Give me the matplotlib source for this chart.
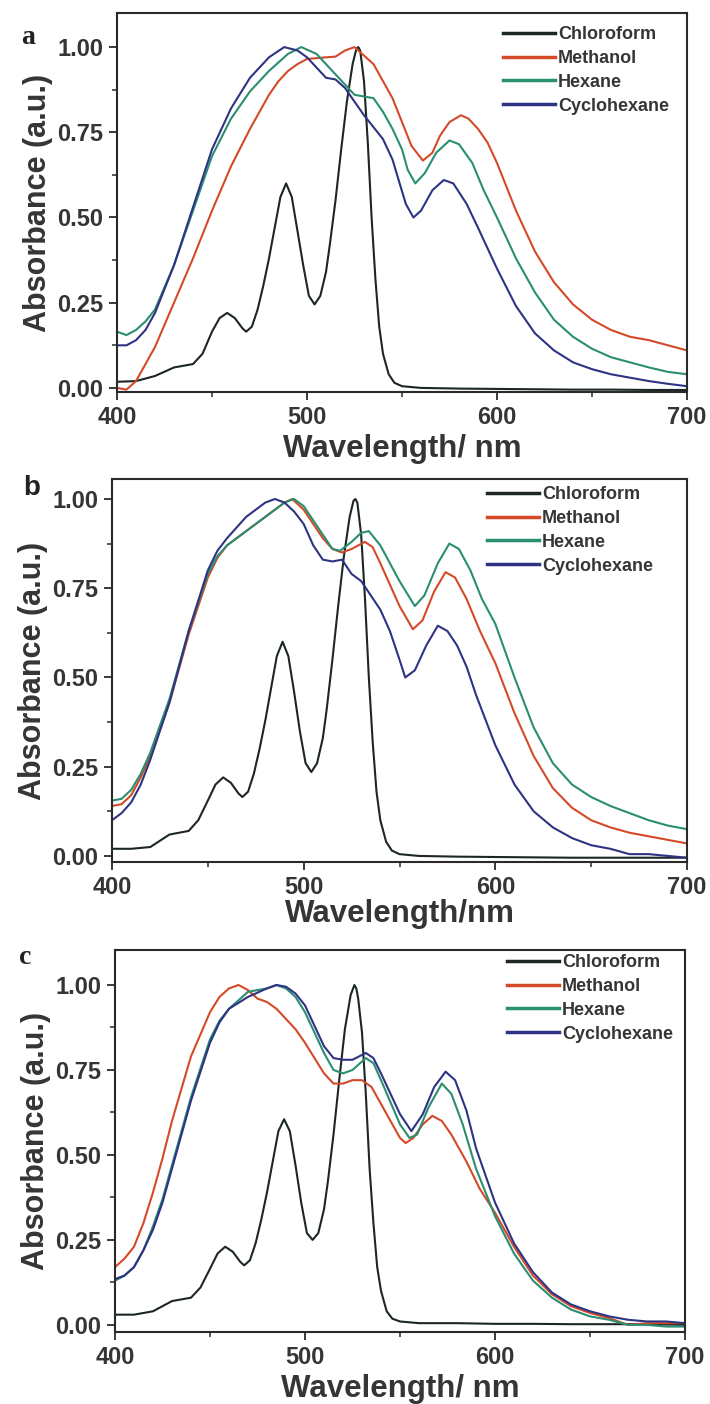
import matplotlib
matplotlib.use("Agg")
import matplotlib.pyplot as plt
from matplotlib.ticker import FixedLocator

plt.rcParams['font.family'] = ['Liberation Sans', 'DejaVu Sans']
plt.rcParams['font.weight'] = 'bold'

labels = ["Chloroform", "Methanol", "Hexane", "Cyclohexane"]
colors = ["#1c2626", "#d44a28", "#2a8e70", "#2e3384"]

chl_wl = [400, 410, 420, 430, 440, 445, 450, 454, 458, 462, 466, 468, 471, 474, 477,
          480, 483, 486, 489, 492, 495, 498, 501, 504, 507, 510, 512, 515, 518, 521,
          524, 526, 527, 528, 530, 532, 534, 536, 538, 540, 543, 546, 550, 560, 580,
          600, 620, 640, 660, 680, 700]

# ---------------- Panel a ----------------
a_chl = [0.018, 0.02, 0.035, 0.06, 0.07, 0.10, 0.165, 0.205, 0.22, 0.205, 0.175, 0.165, 0.18, 0.23, 0.30,
         0.38, 0.47, 0.56, 0.60, 0.56, 0.46, 0.36, 0.27, 0.245, 0.27, 0.34, 0.42, 0.55, 0.70, 0.84,
         0.95, 0.995, 1.0, 0.99, 0.90, 0.72, 0.50, 0.32, 0.18, 0.10, 0.04, 0.015, 0.005, 0.0, -0.002,
         -0.003, -0.004, -0.005, -0.005, -0.006, -0.006]

a_meth_wl = [400, 405, 410, 415, 420, 430, 440, 450, 460, 470, 480, 485, 490, 495, 500, 510, 515,
             520, 525, 530, 535, 540, 545, 550, 555, 561, 566, 570, 575, 581, 585, 590, 595, 600,
             605, 610, 620, 630, 640, 650, 660, 670, 680, 690, 700]
a_meth = [0.0, -0.005, 0.02, 0.07, 0.12, 0.25, 0.38, 0.52, 0.65, 0.76, 0.86, 0.90, 0.93, 0.95,
          0.965, 0.97, 0.972, 0.99, 1.0, 0.975, 0.95, 0.90, 0.85, 0.78, 0.71, 0.667, 0.69, 0.74,
          0.78, 0.80, 0.79, 0.76, 0.72, 0.66, 0.59, 0.52, 0.40, 0.31, 0.245, 0.20, 0.17, 0.15,
          0.14, 0.125, 0.11]

a_hex_wl = [400, 405, 410, 415, 420, 430, 440, 450, 460, 470, 480, 490, 497, 505, 510, 515, 520,
            525, 530, 535, 540, 545, 550, 553, 557, 562, 568, 575, 580, 587, 593, 600, 610, 620,
            630, 640, 650, 660, 670, 680, 690, 700]
a_hex = [0.165, 0.155, 0.17, 0.195, 0.23, 0.36, 0.52, 0.68, 0.79, 0.87, 0.93, 0.98, 1.0, 0.98,
         0.95, 0.92, 0.89, 0.86, 0.855, 0.85, 0.81, 0.76, 0.70, 0.64, 0.60, 0.63, 0.69, 0.726,
         0.715, 0.66, 0.58, 0.50, 0.38, 0.28, 0.20, 0.15, 0.115, 0.09, 0.075, 0.06, 0.047, 0.04]

a_cyc_wl = [400, 405, 410, 415, 420, 430, 440, 450, 460, 470, 480, 488, 495, 500, 505, 510, 515,
            520, 530, 540, 545, 552, 556, 560, 566, 572, 577, 584, 590, 595, 600, 610, 620, 630,
            640, 650, 660, 670, 680, 690, 700]
a_cyc = [0.125, 0.125, 0.14, 0.17, 0.22, 0.36, 0.53, 0.70, 0.82, 0.91, 0.97, 1.0, 0.99, 0.97,
         0.94, 0.91, 0.905, 0.88, 0.80, 0.73, 0.67, 0.54, 0.50, 0.52, 0.58, 0.61, 0.60, 0.54,
         0.47, 0.41, 0.35, 0.24, 0.16, 0.11, 0.075, 0.055, 0.04, 0.03, 0.02, 0.012, 0.005]

# ---------------- Panel b ----------------
b_chl = [0.02, 0.02, 0.025, 0.06, 0.07, 0.10, 0.155, 0.20, 0.22, 0.205, 0.175, 0.165, 0.18, 0.23, 0.30,
         0.38, 0.47, 0.56, 0.60, 0.56, 0.46, 0.35, 0.26, 0.235, 0.26, 0.33, 0.41, 0.55, 0.70, 0.84,
         0.95, 0.995, 1.0, 0.99, 0.90, 0.72, 0.50, 0.32, 0.18, 0.10, 0.04, 0.015, 0.005, 0.0, -0.002,
         -0.003, -0.004, -0.005, -0.005, -0.005, -0.005]

b_meth_wl = [400, 405, 410, 415, 420, 430, 440, 450, 455, 460, 470, 480, 490, 494, 500, 505, 510,
             515, 520, 525, 532, 536, 540, 545, 550, 557, 562, 568, 574, 579, 585, 592, 600, 610,
             620, 630, 640, 650, 660, 670, 680, 690, 700]
b_meth = [0.14, 0.145, 0.17, 0.22, 0.28, 0.43, 0.62, 0.78, 0.835, 0.87, 0.91, 0.95, 0.99, 1.0,
          0.97, 0.93, 0.89, 0.86, 0.85, 0.86, 0.88, 0.865, 0.82, 0.76, 0.70, 0.635, 0.66, 0.74,
          0.795, 0.78, 0.72, 0.63, 0.54, 0.40, 0.28, 0.19, 0.135, 0.10, 0.08, 0.065, 0.055,
          0.045, 0.035]

b_hex_wl = [400, 405, 410, 415, 420, 430, 440, 450, 455, 460, 470, 480, 490, 495, 500, 505, 510,
            515, 519, 525, 530, 534, 540, 545, 550, 558, 563, 570, 576, 581, 587, 593, 600, 610,
            620, 630, 640, 650, 660, 670, 680, 690, 700]
b_hex = [0.155, 0.16, 0.185, 0.23, 0.29, 0.44, 0.63, 0.79, 0.84, 0.87, 0.91, 0.95, 0.99, 1.0,
         0.98, 0.94, 0.90, 0.86, 0.855, 0.88, 0.905, 0.91, 0.87, 0.82, 0.77, 0.70, 0.73, 0.82,
         0.875, 0.86, 0.80, 0.72, 0.65, 0.50, 0.36, 0.26, 0.20, 0.165, 0.14, 0.12, 0.10, 0.085,
         0.075]

b_cyc_wl = [400, 405, 410, 415, 420, 430, 440, 450, 455, 460, 470, 480, 485, 490, 495, 500, 505,
            510, 515, 520, 525, 530, 540, 545, 550, 553, 558, 564, 570, 575, 580, 585, 590, 600,
            610, 620, 630, 640, 650, 660, 670, 680, 690, 700]
b_cyc = [0.10, 0.12, 0.15, 0.20, 0.27, 0.43, 0.63, 0.80, 0.855, 0.89, 0.95, 0.99, 1.0, 0.99,
         0.965, 0.93, 0.87, 0.83, 0.825, 0.83, 0.79, 0.77, 0.69, 0.63, 0.55, 0.50, 0.52, 0.59,
         0.645, 0.63, 0.59, 0.53, 0.45, 0.31, 0.20, 0.125, 0.08, 0.05, 0.03, 0.02, 0.005, 0.005,
         0.0, -0.005]

# ---------------- Panel c ----------------
c_chl = [0.03, 0.03, 0.04, 0.07, 0.08, 0.11, 0.165, 0.21, 0.23, 0.215, 0.185, 0.175, 0.19, 0.24, 0.31,
         0.39, 0.48, 0.57, 0.605, 0.57, 0.47, 0.36, 0.27, 0.25, 0.27, 0.34, 0.42, 0.56, 0.72, 0.87,
         0.97, 1.0, 0.99, 0.96, 0.86, 0.68, 0.46, 0.30, 0.17, 0.10, 0.04, 0.018, 0.01, 0.005, 0.005,
         0.003, 0.003, 0.002, 0.002, 0.002, 0.0]

c_meth_wl = [400, 405, 410, 415, 420, 425, 430, 440, 450, 455, 460, 465, 470, 475, 480, 485, 490,
             495, 500, 505, 510, 515, 520, 525, 530, 535, 540, 545, 550, 553, 557, 562, 567, 572,
             577, 585, 592, 600, 610, 620, 630, 640, 650, 660, 670, 680, 690, 700]
c_meth = [0.17, 0.195, 0.23, 0.30, 0.39, 0.49, 0.60, 0.79, 0.92, 0.965, 0.99, 1.0, 0.985, 0.96,
          0.95, 0.93, 0.90, 0.87, 0.83, 0.785, 0.74, 0.71, 0.71, 0.72, 0.72, 0.70, 0.65, 0.60,
          0.55, 0.535, 0.55, 0.59, 0.615, 0.60, 0.56, 0.48, 0.40, 0.33, 0.23, 0.145, 0.09, 0.055,
          0.035, 0.02, 0.0, 0.005, 0.005, 0.005]

c_hex_wl = [400, 405, 410, 415, 420, 425, 430, 440, 450, 455, 460, 470, 475, 480, 485, 490, 495,
            500, 505, 510, 515, 520, 525, 532, 536, 540, 545, 550, 555, 559, 565, 572, 577, 583,
            590, 600, 610, 620, 630, 640, 650, 660, 670, 680, 690, 700]
c_hex = [0.13, 0.145, 0.17, 0.22, 0.29, 0.37, 0.47, 0.67, 0.84, 0.895, 0.93, 0.98, 0.985, 0.99,
         1.0, 0.99, 0.965, 0.92, 0.86, 0.80, 0.75, 0.74, 0.75, 0.785, 0.77, 0.72, 0.655, 0.59,
         0.55, 0.56, 0.64, 0.71, 0.68, 0.59, 0.46, 0.32, 0.21, 0.13, 0.08, 0.045, 0.025, 0.015,
         0.0, 0.0, -0.005, -0.005]

c_cyc_wl = [400, 405, 410, 415, 420, 425, 430, 440, 450, 455, 460, 470, 480, 485, 490, 495, 500,
            505, 510, 515, 520, 525, 532, 536, 540, 545, 550, 556, 562, 568, 574, 579, 585, 590,
            600, 610, 620, 630, 640, 650, 660, 670, 680, 690, 700]
c_cyc = [0.135, 0.145, 0.17, 0.22, 0.28, 0.36, 0.46, 0.66, 0.83, 0.89, 0.93, 0.965, 0.99, 1.0,
         0.995, 0.975, 0.94, 0.88, 0.82, 0.785, 0.78, 0.78, 0.80, 0.785, 0.74, 0.68, 0.62, 0.57,
         0.62, 0.70, 0.745, 0.72, 0.63, 0.52, 0.36, 0.24, 0.155, 0.095, 0.06, 0.04, 0.025, 0.015,
         0.01, 0.01, 0.005]

panels = [
    dict(tag="a", tagfont="Liberation Serif",
         series=[(chl_wl, a_chl), (a_meth_wl, a_meth), (a_hex_wl, a_hex), (a_cyc_wl, a_cyc)],
         rect=[117, 13, 687, 392], ylim=(-0.012, 1.10), xlabel="Wavelength/ nm", xlpad=4,
         tagpos=(28, 38), legpos=(503, 26)),
    dict(tag="b", tagfont="Liberation Sans",
         series=[(chl_wl, b_chl), (b_meth_wl, b_meth), (b_hex_wl, b_hex), (b_cyc_wl, b_cyc)],
         rect=[112, 479, 687, 862], ylim=(-0.017, 1.056), xlabel="Wavelength/nm", xlpad=0,
         tagpos=(32, 488), legpos=(487, 486)),
    dict(tag="c", tagfont="Liberation Serif",
         series=[(chl_wl, c_chl), (c_meth_wl, c_meth), (c_hex_wl, c_hex), (c_cyc_wl, c_cyc)],
         rect=[115, 950, 685, 1332], ylim=(-0.021, 1.103), xlabel="Wavelength/ nm", xlpad=4,
         tagpos=(25, 957), legpos=(507, 954)),
]

W, H = 710, 1404
fig = plt.figure(figsize=(W / 100, H / 100), dpi=100)
txtc = "#353535"
spc = "#2a2a2a"

for p in panels:
    l, t, r, b = p["rect"]
    ax = fig.add_axes([l / W, 1 - b / H, (r - l) / W, (b - t) / H])
    handles = []
    for (x, y), lab, col in zip(p["series"], labels, colors):
        h, = ax.plot(x, y, color=col, lw=1.5, label=lab)
        handles.append(h)
    ax.set_xlim(400, 700)
    ax.set_ylim(*p["ylim"])
    ax.xaxis.set_major_locator(FixedLocator([400, 500, 600, 700]))
    ax.xaxis.set_minor_locator(FixedLocator([450, 550, 650]))
    ax.yaxis.set_major_locator(FixedLocator([0, 0.25, 0.5, 0.75, 1.0]))
    ax.yaxis.set_minor_locator(FixedLocator([0.125, 0.375, 0.625, 0.875]))
    ax.set_yticklabels(["0.00", "0.25", "0.50", "0.75", "1.00"])
    ax.tick_params(which="major", direction="out", length=6, width=1.3, color=spc,
                   labelsize=17, labelcolor=txtc, pad=4)
    ax.tick_params(which="minor", direction="out", length=3.5, width=1.1, color=spc)
    ax.tick_params(top=False, right=False, which="both")
    for s in ax.spines.values():
        s.set_linewidth(1.5)
        s.set_color(spc)
    ax.set_xlabel(p["xlabel"], fontsize=22.5, color=txtc, labelpad=p["xlpad"], fontweight="bold")
    ax.set_ylabel("Absorbance (a.u.)", fontsize=22, color=txtc, labelpad=3, fontweight="bold")
    lx, ly = p["legpos"]
    leg = ax.legend(handles=handles, loc="upper left",
                    bbox_to_anchor=((lx - l) / (r - l), (b - ly) / (b - t)),
                    frameon=False, fontsize=13, handlelength=2.9, handletextpad=0.15,
                    labelspacing=0.38, borderpad=0, borderaxespad=0)
    for txt in leg.get_texts():
        txt.set_color(txtc)
        txt.set_fontweight("bold")
    for lh in leg.get_lines():
        lh.set_linewidth(2.5)
    tx, ty = p["tagpos"]
    fig.text(tx / W, 1 - ty / H, p["tag"], fontsize=20, fontweight="bold",
             family=p["tagfont"], color="#222222", ha="center", va="center")

fig.savefig("out.png", dpi=100)
